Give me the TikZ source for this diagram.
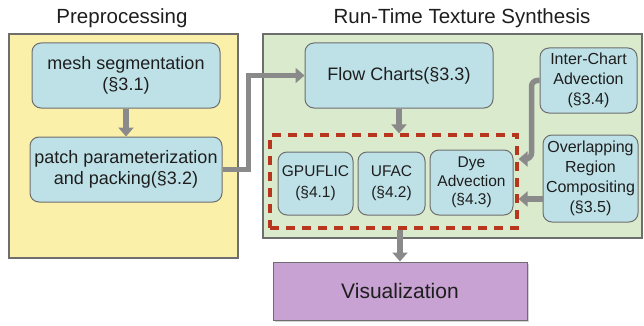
\documentclass[tikz,border=0pt]{standalone}
\usepackage{fontspec}
\setmainfont{Liberation Sans}
\usetikzlibrary{arrows.meta,shadows}
\definecolor{yel}{HTML}{FAF0AA}
\definecolor{grn}{HTML}{DAEBCD}
\definecolor{blu}{HTML}{BEE1E8}
\definecolor{pur}{HTML}{C8A2D2}
\definecolor{bord}{HTML}{6E6E6E}
\definecolor{dred}{HTML}{B8361E}
\definecolor{agray}{HTML}{8A8A8A}
\definecolor{txt}{HTML}{1E1E1E}
\tikzset{
  panel/.style={draw=bord, line width=1.6pt, anchor=north west, inner sep=0pt,
    drop shadow={shadow xshift=1.5pt, shadow yshift=-1.5pt, opacity=0.35}},
  blubox/.style={draw=bord, line width=1pt, fill=blu, rounded corners=9pt, align=center,
    inner sep=0pt, text=txt},
  big/.style={font=\fontsize{18}{21}\selectfont},
  mid/.style={font=\fontsize{16}{20}\selectfont},
  small/.style={font=\fontsize{15.5}{21}\selectfont},
  title/.style={font=\fontsize{20.5}{24}\selectfont, text=txt},
  conn/.style={draw=agray, line width=5.5pt, -{Triangle[width=15pt,length=9pt]}},
  grpbox/.style={draw=dred, line width=3.2pt, dash pattern=on 9pt off 7pt, inner sep=0pt}
}
\begin{document}
\begin{tikzpicture}[x=1pt,y=-1pt]
\useasboundingbox (0,0) rectangle (644,326);
% panels
\node[panel, fill=yel, minimum width=229pt, minimum height=224pt] (pre) at (8,33) {};
\node[panel, fill=grn, minimum width=379pt, minimum height=204pt] (run) at (262,33) {};
\node[title] (t1) at (122,18) {Preprocessing};
\node[title] (t2) at (462,18) {Run-Time Texture Synthesis};
% boxes
\node[blubox, big, minimum width=188pt, minimum height=65pt] (mesh) at (126,75.5) {mesh segmentation\\(§3.1)};
\node[blubox, big, minimum width=192pt, minimum height=65pt] (patch) at (126,169.5) {patch parameterization\\and packing(§3.2)};
\node[blubox, big, minimum width=188pt, minimum height=65pt] (flow) at (399,75.5) {Flow Charts(§3.3)};
\node[blubox, mid, minimum width=97pt, minimum height=65pt] (inter) at (588.5,80.5) {Inter-Chart\\Advection\\(§3.4)};
\node[blubox, mid, minimum width=95pt, minimum height=87pt] (over) at (590.5,178.5) {Overlapping\\Region\\Compositing\\(§3.5)};
\node[grpbox, minimum width=247pt, minimum height=93pt] (grp) at (393.5,181.5) {};
\node[blubox, small, minimum width=75pt, minimum height=63pt] (gpu) at (315.5,183.5) {GPUFLIC\\(§4.1)};
\node[blubox, small, minimum width=67pt, minimum height=63pt] (ufac) at (391.5,183.5) {UFAC\\(§4.2)};
\node[blubox, small, minimum width=83pt, minimum height=65pt, font=\fontsize{15.5}{18.5}\selectfont] (dye) at (471.5,182.5) {Dye\\Advection\\(§4.3)};
\node[draw=bord, line width=1pt, fill=pur, minimum width=254pt, minimum height=58pt,
  font=\fontsize{21}{24}\selectfont, text=txt,
  drop shadow={shadow xshift=1.5pt, shadow yshift=-1.5pt, opacity=0.35}] (vis) at (400,291) {Visualization};
% connectors
\draw[conn] (mesh.south) -- (patch.north);
\draw[conn] (patch.east) -- ++(26,0) coordinate (b1) |- (flow.west);
\draw[conn] (flow.south) -- (grp.north -| flow.south);
\draw[conn, rounded corners=6pt] (inter.west) -- ++(-8,0) coordinate (b2) -- (b2 |- 0,159) -- (grp.east |- 0,159);
\draw[conn] (over.west |- 0,199) -- (grp.east |- 0,199);
\draw[conn] (grp.south -| vis.north) -- (vis.north);
\end{tikzpicture}
\end{document}
